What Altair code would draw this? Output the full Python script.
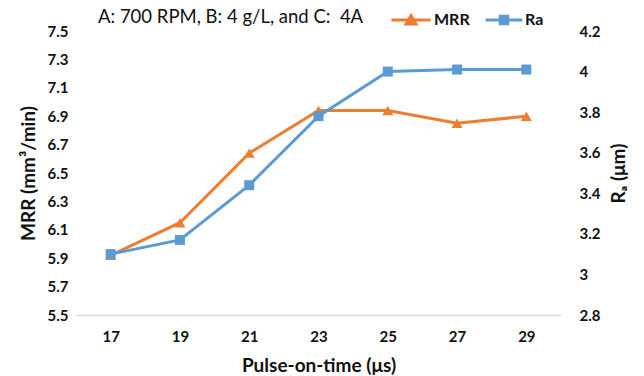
import altair as alt
import pandas as pd

pulse_on_time = [17, 19, 21, 23, 25, 27, 29]
mrr = [5.92, 6.15, 6.64, 6.94, 6.94, 6.85, 6.90]
ra = [3.10, 3.17, 3.44, 3.78, 4.00, 4.01, 4.01]
left_ticks = [5.5, 5.7, 5.9, 6.1, 6.3, 6.5, 6.7, 6.9, 7.1, 7.3, 7.5]
right_ticks = [2.8, 3.0, 3.2, 3.4, 3.6, 3.8, 4.0, 4.2]

ORANGE = "#ED7D31"
BLUE = "#5B9BD5"
FONT = "Lato"

df_mrr = pd.DataFrame({"x": pulse_on_time, "v": mrr, "series": "MRR"})
df_ra = pd.DataFrame({"x": pulse_on_time, "v": ra, "series": "Ra"})

tri_path = "M-4.9,0H4.9M0,-1.1L1.25,1L-1.25,1Z"
sq_path = "M-4.6,0H4.6M-0.95,-0.95H0.95V0.95H-0.95Z"

xenc = alt.X("x:O", title="Pulse-on-time (μs)",
             axis=alt.Axis(labelAngle=0, ticks=False, domainColor="#d9d9d9",
                           domainWidth=1.5, labelPadding=14, titlePadding=12))

mrr_chart = alt.Chart(df_mrr).mark_line(
    strokeWidth=3,
    point=alt.OverlayMarkDef(shape="triangle-up", size=120, filled=True, opacity=1),
).encode(
    x=xenc,
    y=alt.Y("v:Q", title="MRR (mm³/min)",
            scale=alt.Scale(domain=[5.5, 7.5], nice=False, zero=False),
            axis=alt.Axis(values=left_ticks, format=".1f", grid=False, domain=False,
                          ticks=False, labelPadding=8, titlePadding=9)),
    color=alt.Color("series:N",
                    scale=alt.Scale(domain=["MRR"], range=[ORANGE]),
                    legend=alt.Legend(title=None, orient="none", legendX=327, legendY=-19,
                                      symbolType=tri_path, symbolSize=64,
                                      symbolStrokeWidth=3, labelOffset=15)),
)

ra_chart = alt.Chart(df_ra).mark_line(
    strokeWidth=3,
    point=alt.OverlayMarkDef(shape="square", size=100, filled=True, opacity=1),
).encode(
    x=xenc,
    y=alt.Y("v:Q", title="Rₐ (μm)",
            scale=alt.Scale(domain=[2.8, 4.2], nice=False, zero=False),
            axis=alt.Axis(values=right_ticks, format="~g", grid=False, domain=False,
                          ticks=False, labelPadding=18, titlePadding=10,
                          titleAngle=270, titleBaseline="top", orient="right")),
    color=alt.Color("series:N",
                    scale=alt.Scale(domain=["Ra"], range=[BLUE]),
                    legend=alt.Legend(title=None, orient="none", legendX=420, legendY=-19,
                                      symbolType=sq_path, symbolSize=64,
                                      symbolStrokeWidth=3, labelOffset=13)),
)

chart = alt.layer(mrr_chart, ra_chart).resolve_scale(
    y="independent", color="independent"
).resolve_legend(color="independent").properties(
    width=485,
    height=284,
    padding={"left": 76, "top": 31, "right": 83, "bottom": 61},
    autosize=alt.AutoSizeParams(type="none"),
    title=alt.TitleParams("A: 700 RPM, B: 4 g/L, and C: \u00a04A", anchor="start", frame="group",
                          dx=22, offset=-14, fontSize=18.5, fontWeight="normal", font=FONT,
                          color="#111111"),
).configure_view(stroke=None).configure_axis(
    labelFont=FONT, labelFontSize=15, labelFontWeight="bold", labelColor="#111111",
    titleFont=FONT, titleFontSize=19, titleFontWeight="bold", titleColor="#111111",
).configure_legend(
    labelFont=FONT, labelFontSize=16, labelFontWeight="bold", labelColor="#111111",
)

chart.save("out.html", embed_options={"renderer": "svg", "actions": False})
